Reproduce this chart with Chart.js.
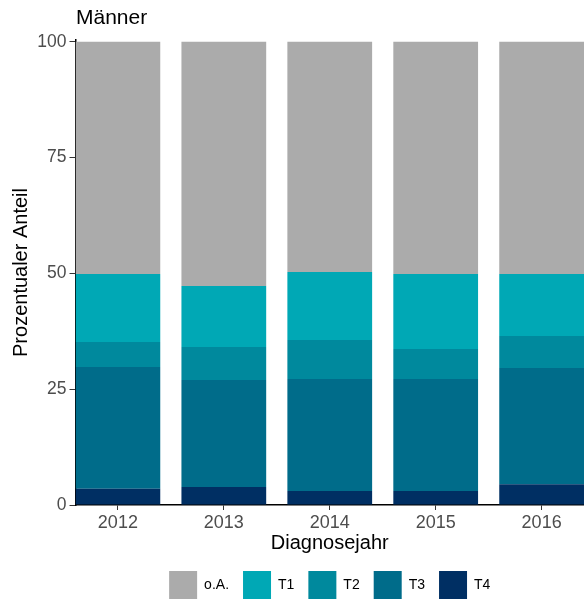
<!DOCTYPE html>
<html>
<head>
<meta charset="utf-8">
<script src="https://cdn.jsdelivr.net/npm/chart.js@4/dist/chart.umd.min.js"></script>
<style>
  html, body { margin: 0; padding: 0; background: #fff; }
  #wrap { width: 584px; height: 600px; }
</style>
</head>
<body>
<div id="wrap"><canvas id="chart"></canvas></div>
<script>
// Männer – T-Stadium nach Diagnosejahr (Prozent)
const years = [2012, 2013, 2014, 2015, 2016];
const t4 = [3.5, 3.9, 3.0, 3.0, 4.5];
const t3 = [26.3, 23.1, 24.2, 24.2, 25.1];
const t2 = [5.4, 7.1, 8.4, 6.5, 6.9];
const t1 = [14.7, 13.2, 14.7, 16.2, 13.4];
const oa = [50.1, 52.7, 49.7, 50.1, 50.1];
const yTicks = [0, 25, 50, 75, 100];

const FONT = "'Liberation Sans', Arial, sans-serif";

// small plugin: title left-aligned with the plot panel
const panelTitle = {
    id: 'panelTitle',
    afterDraw(chart) {
        const { ctx, chartArea } = chart;
        ctx.save();
        ctx.font = '21px ' + FONT;
        ctx.fillStyle = '#000';
        ctx.textAlign = 'left';
        ctx.textBaseline = 'alphabetic';
        ctx.fillText('Männer', chartArea.left + 0.5, 24);
        ctx.restore();
    }
};

const ctx = document.getElementById('chart').getContext('2d');
new Chart(ctx, {
    type: 'bar',
    data: {
        labels: years,
        datasets: [
            { label: 'T4', data: t4, backgroundColor: '#002F63' },
            { label: 'T3', data: t3, backgroundColor: '#006C8A' },
            { label: 'T2', data: t2, backgroundColor: '#00899D' },
            { label: 'T1', data: t1, backgroundColor: '#00A8B5' },
            { label: 'o.A.', data: oa, backgroundColor: '#ABABAB' },
        ],
    },
    options: {
        responsive: true,
        maintainAspectRatio: false,
        animation: false,
        categoryPercentage: 1,
        barPercentage: 0.8,
        layout: { padding: { top: 40, right: 0, bottom: -9, left: 0 } },
        plugins: {
            tooltip: { enabled: false },
            title: { display: false },
            legend: {
                position: 'bottom',
                fullSize: false,
                reverse: true,
                labels: {
                    boxWidth: 28,
                    boxHeight: 28,
                    padding: 14,
                    color: '#000',
                    font: { family: FONT, size: 14 },
                },
            },
        },
        scales: {
            x: {
                type: 'linear',
                stacked: true,
                offset: false,
                min: 2011.6,
                max: 2016.4,
                afterBuildTicks: scale => { scale.ticks = years.map(v => ({ value: v })); },
                afterFit: scale => { scale.height = 52; },
                grid: { offset: false, drawOnChartArea: false, drawTicks: true, tickLength: 5, color: '#333', lineWidth: 1 },
                border: { display: true, color: '#000', width: 1.5 },
                ticks: {
                    padding: 2,
                    color: '#4D4D4D',
                    font: { family: FONT, size: 18 },
                    callback: v => String(v),
                },
                title: {
                    display: true,
                    text: 'Diagnosejahr',
                    color: '#000',
                    font: { family: FONT, size: 20 },
                    padding: { top: 0, bottom: 2 },
                },
            },
            y: {
                stacked: true,
                min: 0,
                max: 100.4,
                afterBuildTicks: scale => { scale.ticks = yTicks.map(v => ({ value: v })); },
                afterFit: scale => { scale.width = 75.5; },
                grid: { drawOnChartArea: false, drawTicks: true, tickLength: 6, color: '#333', lineWidth: 1 },
                border: { display: true, color: '#000', width: 1.5 },
                ticks: {
                    padding: 3,
                    color: '#4D4D4D',
                    font: { family: FONT, size: 17.5 },
                },
                title: {
                    display: true,
                    text: 'Prozentualer Anteil',
                    color: '#000',
                    font: { family: FONT, size: 20 },
                    padding: { top: 9, bottom: 0 },
                },
            },
        },
    },
    plugins: [panelTitle],
});
</script>
</body>
</html>
